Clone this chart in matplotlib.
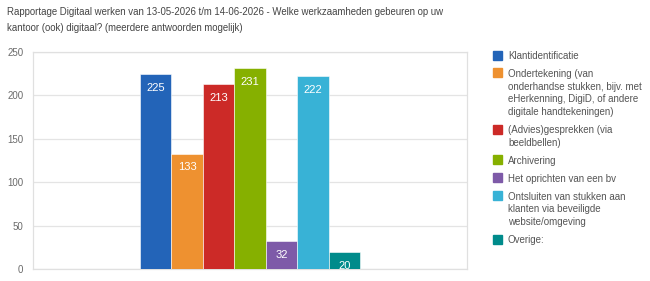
import matplotlib
matplotlib.use("Agg")
import matplotlib.pyplot as plt
import matplotlib.patches as mpatches
import numpy as np

# ── data ─────────────────────────────────────────────────────────────────────
categories = [
    "Klantidentificatie",
    "Ondertekening (van\nonderhandse stukken, bijv. met\neHerkenning, DigiD, of andere\ndigitale handtekeningen)",
    "(Advies)gesprekken (via\nbeeldbellen)",
    "Archivering",
    "Het oprichten van een bv",
    "Ontsluiten van stukken aan\nklanten via beveiligde\nwebsite/omgeving",
    "Overige:",
]
values = [225, 133, 213, 231, 32, 222, 20]
colors = ["#2364b8", "#ee9130", "#cc2a27", "#86b000", "#7e5aa8", "#38b2d6", "#008b8b"]
yticks = [0, 50, 100, 150, 200, 250]

title_lines = [
    "Rapportage Digitaal werken van 13-05-2026 t/m 14-06-2026 - Welke werkzaamheden gebeuren op uw",
    "kantoor (ook) digitaal? (meerdere antwoorden mogelijk)",
]

REG = ["Liberation Sans", "DejaVu Sans"]
NARROW = ["Liberation Sans Narrow", "Liberation Sans", "DejaVu Sans"]

W, H = 650, 281
fig = plt.figure(figsize=(W / 100, H / 100), dpi=100)
ax = fig.add_axes([33 / W, 1 - 269 / H, 434 / W, 217 / H])

# ── bars: one category group, series side by side ───────────────────────────
n = len(values)
w = 0.0724
x = (np.arange(n) - (n - 1) / 2) * w
ax.bar(x, values, width=w, color=colors, edgecolor="#ffffff", linewidth=0.4, zorder=3)

for xi, v in zip(x, values):
    ax.annotate(str(v), (xi, v), xytext=(0, -10), textcoords="offset points",
                ha="center", va="center", color="white", fontsize=8,
                family=REG, zorder=4)

ax.set_xlim(-0.5, 0.5)
ax.set_ylim(0, 250)
ax.set_xticks([])
ax.set_yticks(yticks)
ax.set_yticklabels([str(t) for t in yticks], fontsize=7, color="#6a6a6a", family=REG)
ax.tick_params(axis="y", length=0, pad=7)
ax.grid(axis="y", color="#e4e4e4", linewidth=0.9, zorder=0)
for s in ax.spines.values():
    s.set_color("#e0e0e0")
    s.set_linewidth(0.9)

# ── title (two lines, 16 px apart) ───────────────────────────────────────────
for k, line in enumerate(title_lines):
    fig.text(7 / W, 1 - (11 + 16 * k) / H, line, ha="left", va="center_baseline",
             fontsize=6.9, color="#444444", family=NARROW)

# ── legend (drawn by hand so the swatch sits on the first text line) ─────────
line_h, gap = 12.7, 5.3
y = 55.0
for c, lab in zip(colors, categories):
    fig.patches.append(mpatches.Rectangle((493 / W, 1 - (y + 4.5) / H), 9 / W, 9 / H,
                                          transform=fig.transFigure, color=c))
    for k, line in enumerate(lab.split("\n")):
        fig.text(508 / W, 1 - (y + k * line_h) / H, line, ha="left",
                 va="center_baseline", fontsize=7, color="#555555", family=REG)
    y += len(lab.split("\n")) * line_h + gap

fig.savefig("out.png", dpi=100, facecolor="white")
